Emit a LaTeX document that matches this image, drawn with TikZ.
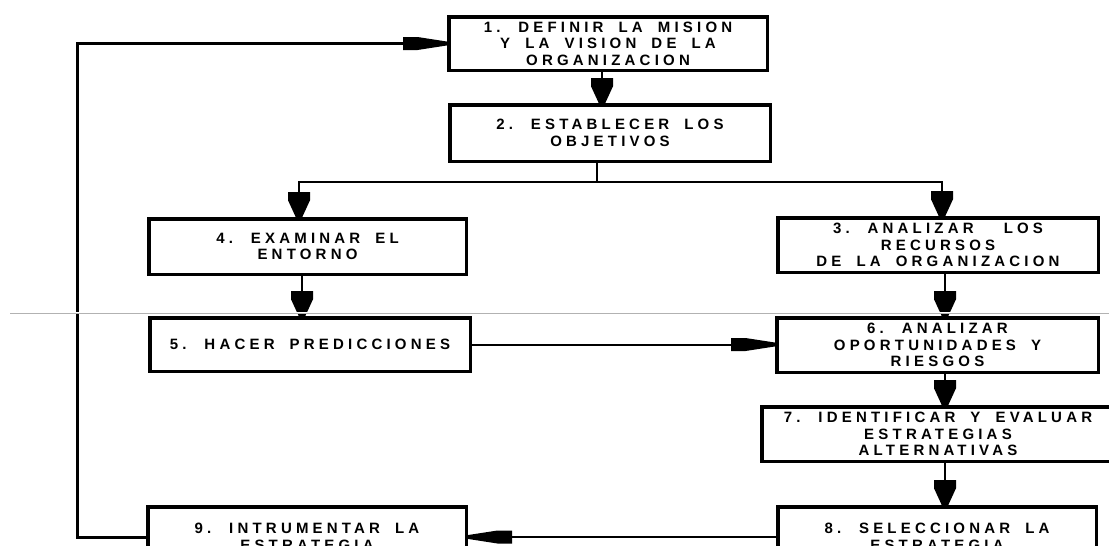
\documentclass[tikz,border=0pt]{standalone}
\usepackage{fontspec}
\setmainfont{Liberation Sans}[LetterSpace=28,WordSpace=1.8]
\usetikzlibrary{arrows.meta}
\makeatletter
\pgfdeclarearrow{
  name = Blk,
  parameters = {\the\pgfarrowlength,\the\pgfarrowwidth},
  setup code = {
    \pgfarrowssettipend{0pt}
    \pgfarrowssetbackend{-\pgfarrowlength}
    \pgfarrowssetlineend{-.5\pgfarrowlength}
    \pgfarrowsupperhullpoint{-\pgfarrowlength}{.5\pgfarrowwidth}
    \pgfarrowsupperhullpoint{0pt}{.5\pgfarrowwidth}
    \pgfarrowssavethe\pgfarrowlength
    \pgfarrowssavethe\pgfarrowwidth
  },
  drawing code = {
    \pgfpathmoveto{\pgfqpoint{-\pgfarrowlength}{.5\pgfarrowwidth}}
    \pgfpathlineto{\pgfqpoint{-.67\pgfarrowlength}{.5\pgfarrowwidth}}
    \pgfpathlineto{\pgfqpoint{0pt}{.15\pgfarrowwidth}}
    \pgfpathlineto{\pgfqpoint{0pt}{-.15\pgfarrowwidth}}
    \pgfpathlineto{\pgfqpoint{-.67\pgfarrowlength}{-.5\pgfarrowwidth}}
    \pgfpathlineto{\pgfqpoint{-\pgfarrowlength}{-.5\pgfarrowwidth}}
    \pgfpathclose
    \pgfusepathqfill
  },
  defaults = {length=10pt, width=10pt}
}
\makeatother
\begin{document}
\begin{tikzpicture}[x=1pt,y=-1pt,
  box/.style={draw, line width=3.5pt, align=center, inner sep=0pt,
    font=\fontsize{15}{16.5}\selectfont\bfseries},
  conn/.style={line width=2pt},
  loopline/.style={line width=3pt},
  varr/.style={-{Blk[length=25pt,width=22pt]}},
  harr/.style={-{Blk[length=44pt,width=13pt]}}]
\useasboundingbox (0,0) rectangle (1109,546);
\fill[white] (0,0) rectangle (1109,546);
\begin{scope}
\clip (0,0) rectangle (1109,546);
\node[box, minimum width=318.5pt, minimum height=53.5pt] (b1) at (608,43.5)
  {1. DEFINIR LA MISION\\Y LA VISION DE LA\\ORGANIZACION};
\node[box, minimum width=320.5pt, minimum height=56.5pt] (b2) at (610,133)
  {2. ESTABLECER LOS\\OBJETIVOS};
\node[box, minimum width=317.5pt, minimum height=55.5pt] (b4) at (307.5,246.5)
  {4. EXAMINAR EL\\ENTORNO};
\node[box, minimum width=320.5pt, minimum height=54.5pt] (b3) at (938,245)
  {3. ANALIZAR\ \ LOS\\RECURSOS\\DE LA ORGANIZACION};
\node[box, minimum width=320.5pt, minimum height=53.5pt] (b5) at (310,344.5)
  {5. HACER PREDICCIONES};
\node[box, minimum width=321.5pt, minimum height=54.5pt] (b6) at (937.5,345)
  {6. ANALIZAR\\OPORTUNIDADES Y\\RIESGOS};
\node[box, minimum width=352.5pt, minimum height=54.5pt] (b7) at (938,434)
  {7. IDENTIFICAR Y EVALUAR\\ESTRATEGIAS\\ALTERNATIVAS};
\node[box, minimum width=318.5pt, minimum height=60.5pt] (b8) at (937,537)
  {8. SELECCIONAR LA\\ESTRATEGIA};
\node[box, minimum width=318.5pt, minimum height=60.5pt] (b9) at (307,537)
  {9. INTRUMENTAR LA\\ESTRATEGIA};

\coordinate (x12) at (602,0);
\coordinate (split) at (597,182);
\coordinate (x4) at (299,0);
\coordinate (x3) at (942,0);
\coordinate (x45) at (302,0);
\coordinate (xr) at (945,0);
\coordinate (loopx) at (77,0);

\draw[conn, varr] (b1.south -| x12) -- (b2.north -| x12);
\draw[conn] (b2.south -| split) -- (split);
\draw[conn, varr] (split) -| (b4.north -| x4);
\draw[conn, varr] (split) -| (b3.north -| x3);
\draw[conn, varr] (b4.south -| x45) -- (b5.north -| x45);
\draw[conn, varr] (b3.south -| xr) -- (b6.north -| xr);
\draw[conn, varr] (b6.south -| xr) -- (b7.north -| xr);
\draw[conn, varr] (b7.south -| xr) -- (b8.north -| xr);
\draw[conn, harr] (b5.east) -- (b6.west |- b5.east);
\draw[conn, harr] (b8.west) -- (b9.east);
\draw[loopline, harr] (b9.west) -| (loopx |- b1.west) -- (b1.west);

\draw[white, line width=2pt] (10,313) -- (1109,313);
\draw[black!30, line width=1pt] (10,313) -- (1109,313);
\end{scope}
\end{tikzpicture}
\end{document}
